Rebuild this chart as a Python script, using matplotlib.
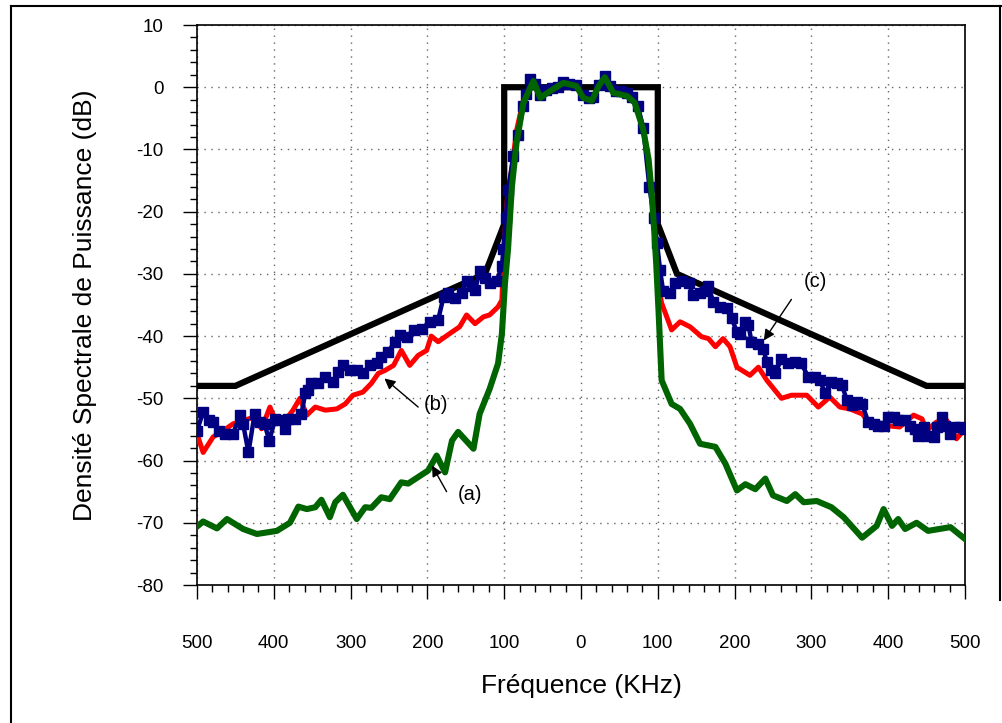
import matplotlib
matplotlib.use("Agg")
import matplotlib.pyplot as plt
from matplotlib.ticker import MultipleLocator, FixedLocator
from matplotlib.lines import Line2D

plt.rcParams['font.family'] = ['Liberation Sans', 'DejaVu Sans']
plt.rcParams['axes.unicode_minus'] = False

# ---------------- data ----------------
mask_x = [-500, -450, -125, -100, -100, 100, 100, 125, 450, 500]
mask_y = [-48, -48, -30, -22, 0, 0, -22, -30, -48, -48]

green_x = [-500, -492, -474, -461, -440, -422, -396, -379, -368, -357, -346, -338, -327, -320,
           -310, -292, -281, -273, -260, -249, -234, -225, -199, -188, -177, -168, -160, -140,
           -132, -119, -108, -103, -99, -95, -90, -84, -75, -62, -53, -40, -23, -6, 3, 14, 23,
           31, 42, 60, 70, 81, 88, 92, 95, 98, 101, 105, 118, 129, 142, 155, 175, 188, 203,
           214, 227, 240, 250, 268, 279, 290, 307, 326, 342, 366, 385, 394, 405, 413, 422,
           437, 452, 481, 500]
green_y = [-70.6, -69.8, -70.9, -69.4, -71.0, -71.8, -71.3, -70.0, -67.4, -67.8, -67.5, -66.3,
           -69.1, -66.7, -65.5, -69.4, -67.5, -67.6, -65.9, -66.2, -63.5, -63.7, -61.6, -59.2,
           -61.9, -56.8, -55.4, -58.1, -52.5, -48.5, -44.4, -39.6, -31.5, -26.0, -16.0, -9.0,
           -2.5, 1.0, -1.7, -0.6, 0.7, 0.2, -1.7, -2.2, 0.2, 1.6, -0.9, -1.4, -2.5, -6.8, -11.6,
           -17.0, -22.4, -28.5, -36.0, -47.1, -50.9, -51.7, -54.1, -57.3, -57.8, -60.5, -64.8,
           -63.8, -64.6, -62.9, -65.6, -66.5, -65.4, -66.7, -66.5, -67.5, -69.1, -72.4, -70.5,
           -67.8, -70.5, -69.4, -71.0, -70.0, -71.3, -70.7, -72.6]

red_x = [-500, -492, -479, -466, -453, -438, -425, -416, -405, -396, -385, -375, -366, -357,
         -346, -333, -318, -307, -297, -284, -273, -264, -255, -244, -234, -223, -212, -201,
         -195, -186, -171, -158, -149, -138, -127, -119, -108, -103, -100, -96, -90, -84, -75,
         -62, -53, -40, -23, -6, 3, 14, 23, 31, 42, 60, 70, 81, 88, 94, 98, 101, 105, 118,
         129, 142, 157, 166, 175, 185, 194, 203, 220, 231, 242, 261, 274, 294, 309, 324, 337,
         350, 366, 381, 398, 415, 433, 444, 450, 463, 476, 489, 500]
red_y = [-55.7, -58.7, -56.2, -55.2, -54.1, -53.5, -53.0, -54.9, -51.4, -54.1, -53.5, -51.9,
         -50.0, -52.7, -51.4, -51.9, -51.7, -50.9, -49.5, -49.0, -47.6, -46.0, -45.5, -44.7,
         -42.3, -44.7, -43.1, -42.3, -40.0, -40.9, -39.6, -38.5, -36.6, -38.0, -36.9, -36.6,
         -35.3, -34.2, -25.0, -18.0, -13.0, -7.0, -2.0, 0.5, -1.5, -0.5, 0.5, 0.0, -1.5, -2.0,
         0.0, 1.2, -0.8, -1.2, -2.3, -6.5, -12.0, -20.0, -28.0, -32.0, -34.7, -39.0, -37.7,
         -38.5, -40.1, -40.4, -41.7, -40.4, -41.7, -45.0, -46.3, -45.0, -47.1, -50.0, -49.5,
         -49.5, -51.4, -49.8, -51.4, -51.7, -52.5, -54.6, -54.4, -54.6, -52.7, -53.3, -55.2,
         -53.8, -53.5, -56.5, -54.9]

blue_x = [-500, -492, -485, -479, -472, -464, -453, -444, -440, -433, -425, -418, -412, -406,
          -398, -392, -385, -381, -372, -364, -359, -355, -351, -342, -333, -323, -316, -310,
          -301, -292, -284, -275, -266, -260, -251, -242, -236, -227, -218, -207, -197, -186,
          -179, -173, -164, -155, -149, -142, -138, -132, -125, -119, -110, -103, -101, -98,
          -95, -88, -82, -75, -71, -66, -60, -53, -45, -38, -30, -23, -15, -6, 3, 10, 16, 23,
          31, 38, 45, 52, 60, 67, 74, 81, 89, 95, 99, 103, 107, 116, 122, 131, 140, 146, 155,
          162, 166, 172, 181, 190, 196, 203, 207, 214, 218, 222, 231, 237, 242, 248, 253, 261,
          270, 279, 287, 296, 305, 311, 318, 326, 333, 340, 346, 353, 359, 366, 374, 381, 387,
          394, 400, 407, 413, 422, 428, 435, 439, 446, 450, 459, 463, 470, 474, 481, 487, 494,
          500]
blue_y = [-55.2, -52.2, -53.5, -53.8, -55.2, -55.7, -55.7, -52.7, -54.1, -58.7, -52.5, -53.8,
          -54.1, -56.8, -53.3, -53.5, -54.9, -53.3, -53.3, -52.5, -49.2, -48.7, -47.6, -47.6,
          -46.6, -47.4, -45.8, -44.7, -45.5, -45.5, -46.0, -44.7, -44.4, -43.3, -42.5, -40.9,
          -39.8, -40.1, -39.0, -38.8, -37.7, -37.4, -33.7, -33.1, -33.9, -33.1, -31.2, -32.0,
          -32.6, -29.6, -30.7, -31.5, -31.2, -28.8, -26.0, -21.0, -16.5, -11.0, -7.6, -3.0,
          -1.1, 1.3, 0.5, -1.2, -0.5, -0.2, 0.0, 0.8, 0.5, 0.3, -1.2, -1.8, -1.5, 0.3, 1.8,
          0.2, -0.6, -0.6, -0.9, -1.5, -3.0, -6.5, -16.0, -21.0, -25.0, -29.4, -32.8, -33.1,
          -31.5, -31.2, -31.5, -33.4, -33.1, -32.8, -32.0, -34.5, -35.3, -35.5, -37.1, -39.3,
          -39.6, -37.7, -38.2, -40.9, -41.2, -42.0, -44.1, -45.5, -46.0, -43.6, -44.4, -44.1,
          -44.4, -46.6, -46.6, -47.1, -49.2, -47.4, -47.6, -47.9, -50.3, -51.1, -50.6, -50.9,
          -53.8, -54.1, -54.4, -54.4, -53.0, -53.0, -53.5, -53.5, -54.4, -54.9, -56.0, -54.6,
          -56.0, -56.2, -54.6, -53.0, -54.4, -55.7, -54.6, -54.6, -54.9]

x_ticks = [-500, -400, -300, -200, -100, 0, 100, 200, 300, 400, 500]
x_tick_labels = ['500', '400', '300', '200', '100', '0', '100', '200', '300', '400', '500']
y_ticks = [10, 0, -10, -20, -30, -40, -50, -60, -70, -80]

# ---------------- figure ----------------
W, H = 1003, 723
fig = plt.figure(figsize=(W / 100, H / 100), dpi=100)
ax = fig.add_axes([197 / W, 1 - 585 / H, (965 - 197) / W, (585 - 25) / H])

ax.plot(mask_x, mask_y, color='black', lw=4.5, solid_joinstyle='miter', zorder=2)
ax.plot(red_x, red_y, color='#ff0000', lw=3.6, zorder=3)
ax.plot(blue_x, blue_y, color='#000080', lw=3.2, marker='s', ms=6.5, zorder=4)
ax.plot(green_x, green_y, color='#006400', lw=4.4, zorder=5)

ax.set_xlim(-500, 500)
ax.set_ylim(-80, 10)
ax.xaxis.set_major_locator(FixedLocator(x_ticks))
ax.set_xticklabels(x_tick_labels)
ax.xaxis.set_minor_locator(MultipleLocator(20))
ax.yaxis.set_major_locator(FixedLocator(y_ticks))
ax.yaxis.set_minor_locator(MultipleLocator(2))

ax.tick_params(axis='both', which='major', direction='out', length=10, width=1, labelsize=13.5)
ax.tick_params(axis='both', which='minor', direction='out', length=5, width=1)
ax.tick_params(axis='x', which='major', pad=26)
ax.tick_params(axis='y', which='major', pad=14)

ax.grid(True, which='major', color='#666666', linestyle=(0, (1, 4)), linewidth=1)
for s in ax.spines.values():
    s.set_linewidth(1.2)

ax.set_xlabel('Fréquence (KHz)', fontsize=19)
ax.set_ylabel('Densité Spectrale de Puissance (dB)', fontsize=19)
ax.xaxis.set_label_coords(0.5, (585 - 686) / 560, transform=ax.transAxes)
ax.yaxis.set_label_coords((85 - 197) / 768, 0.5, transform=ax.transAxes)
ax.xaxis.label.set_va('center')
ax.yaxis.label.set_va('center')

arrow = dict(arrowstyle='-|>', color='black', lw=1, mutation_scale=16, shrinkA=0, shrinkB=0)
ax.annotate('', xy=(-194, -60.8), xytext=(-175, -65), arrowprops=arrow, zorder=6)
ax.text(-144, -65.5, '(a)', fontsize=14.5, ha='center', va='center')
ax.annotate('', xy=(-256, -46.8), xytext=(-212, -51.4), arrowprops=arrow, zorder=6)
ax.text(-189, -51, '(b)', fontsize=14.5, ha='center', va='center')
ax.annotate('', xy=(238, -40.7), xytext=(274, -34.1), arrowprops=arrow, zorder=6)
ax.text(305, -31.2, '(c)', fontsize=14.5, ha='center', va='center')

# figure frame (left / top / right)
fig.add_artist(Line2D([11 / W, 11 / W], [0, 1 - 6 / H], transform=fig.transFigure, color='black', lw=1.5))
fig.add_artist(Line2D([11 / W, 1], [1 - 6 / H, 1 - 6 / H], transform=fig.transFigure, color='black', lw=1.5))
fig.add_artist(Line2D([1000 / W, 1000 / W], [1 - 6 / H, 1 - 600 / H], transform=fig.transFigure, color='black', lw=1.5))

fig.savefig('out.png', dpi=100)
